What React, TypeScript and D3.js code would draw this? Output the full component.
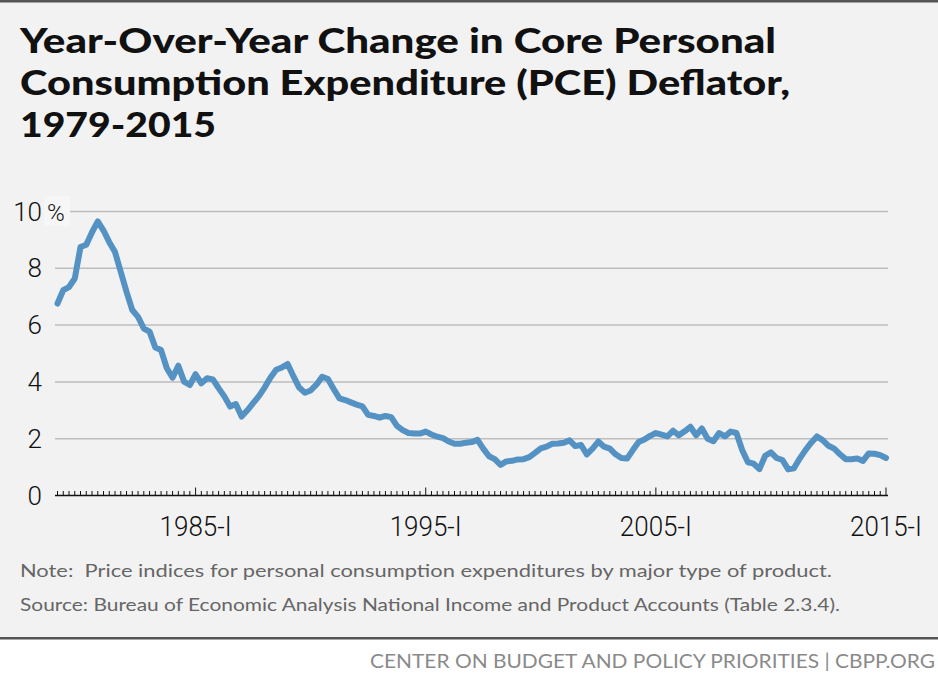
import React from "react";
import * as d3 from "d3";

const titleLines = [
  "Year-Over-Year Change in Core Personal",
  "Consumption Expenditure (PCE) Deflator,",
  "1979-2015",
];
const startYear = 1979;
const pceValues = [
  6.76, 7.23, 7.34, 7.64, 8.75, 8.83, 9.27, 9.65, 9.33, 8.92,
  8.57, 7.87, 7.17, 6.53, 6.29, 5.88, 5.77, 5.21, 5.12, 4.48,
  4.15, 4.57, 4.01, 3.89, 4.27, 3.95, 4.13, 4.09, 3.78, 3.49,
  3.13, 3.22, 2.78, 3.0, 3.25, 3.5, 3.8, 4.15, 4.43, 4.51,
  4.63, 4.2, 3.8, 3.62, 3.7, 3.9, 4.18, 4.1, 3.75, 3.42,
  3.36, 3.28, 3.2, 3.14, 2.84, 2.8, 2.74, 2.8, 2.76, 2.45,
  2.3, 2.2, 2.18, 2.18, 2.25, 2.15, 2.07, 2.02, 1.9, 1.82,
  1.82, 1.86, 1.88, 1.96, 1.65, 1.38, 1.28, 1.08, 1.2, 1.22,
  1.27, 1.28, 1.35, 1.5, 1.66, 1.72, 1.82, 1.83, 1.86, 1.94,
  1.74, 1.78, 1.45, 1.65, 1.9, 1.72, 1.65, 1.45, 1.32, 1.3,
  1.6, 1.88, 1.97, 2.1, 2.2, 2.14, 2.08, 2.28, 2.12, 2.26,
  2.42, 2.12, 2.36, 2.0, 1.91, 2.2, 2.08, 2.25, 2.2, 1.6,
  1.17, 1.12, 0.93, 1.4, 1.52, 1.32, 1.25, 0.92, 0.96, 1.3,
  1.6, 1.86, 2.08, 1.95, 1.75, 1.65, 1.45, 1.28, 1.28, 1.3,
  1.22, 1.48, 1.47, 1.42, 1.32,
];
const quarterLabels = pceValues.map((_, i) => {
  const y = startYear + Math.floor(i / 4);
  const q = ["I", "II", "III", "IV"][i % 4];
  return `${y}-${q}`;
});
const labeledTicks = ["1985-I", "1995-I", "2005-I", "2015-I"];
const yTicks = [0, 2, 4, 6, 8, 10];
const noteText = "Note:  Price indices for personal consumption expenditures by major type of product.";
const sourceText = "Source: Bureau of Economic Analysis National Income and Product Accounts (Table 2.3.4).";
const footerText = "CENTER ON BUDGET AND POLICY PRIORITIES | CBPP.ORG";

export default function App() {
  const W = 938, H = 687;
  const x = d3.scaleLinear().domain([0, pceValues.length - 1]).range([57.5, 886]);
  const y = d3.scaleLinear().domain([0, 10]).range([495.5, 211.5]);
  const line = d3
    .line<number>()
    .x((_, i) => x(i))
    .y((d) => y(d))
    .curve(d3.curveLinear);
  const labelFont = "Roboto, 'Open Sans', sans-serif";
  return (
    <div style={{ position: "fixed", left: 0, top: 0 }}>
      <style>{`body{margin:0;}`}</style>
      <svg width={W} height={H} style={{ display: "block" }}>
        <rect x={0} y={0} width={W} height={H} fill="#ffffff" />
        <rect x={0} y={0} width={W} height={638} fill="#f2f2f2" />
        <rect x={0} y={0} width={W} height={2.5} fill="#555555" />
        <rect x={0} y={637} width={W} height={2.5} fill="#555555" />
        {titleLines.map((t, i) => (
          <text
            key={t}
            x={20}
            y={53 + i * 42}
            fontFamily="Lato, 'Open Sans', sans-serif"
            fontWeight={900}
            fontSize={35}
            fill="#111"
            textLength={i === 0 ? 756 : i === 1 ? 770 : 196}
            lengthAdjust="spacingAndGlyphs"
          >
            {t}
          </text>
        ))}
        {yTicks.filter((v) => v > 0).map((v) => (
          <line key={v} x1={55} x2={888} y1={y(v)} y2={y(v)} stroke="#bdbdbd" strokeWidth={1.5} />
        ))}
        <rect x={44} y={196} width={26} height={30} fill="#f6f6f6" />
        {yTicks.map((v) => (
          <text
            key={v}
            x={42}
            y={y(v) + 9}
            textAnchor="end"
            fontFamily={labelFont}
            fontWeight={300}
            fontSize={26}
            fill="#111"
          >
            {v}
          </text>
        ))}
        <text x={47} y={y(10) + 9} fontFamily={labelFont} fontWeight={300} fontSize={24} fill="#111">
          %
        </text>
        <path d={line(pceValues) || ""} fill="none" stroke="#5592c4" strokeWidth={6} strokeLinejoin="round" strokeLinecap="round" />
        <line x1={55} x2={888} y1={y(0)} y2={y(0)} stroke="#111" strokeWidth={1.5} />
        {quarterLabels.map((q, i) => {
          const major = labeledTicks.includes(q);
          return (
            <line
              key={q}
              x1={x(i)}
              x2={x(i)}
              y1={y(0)}
              y2={y(0) - (major ? 8 : 4.5)}
              stroke="#111"
              strokeWidth={1}
            />
          );
        })}
        {quarterLabels.map((q, i) =>
          labeledTicks.includes(q) ? (
            <text
              key={"l" + q}
              x={x(i)}
              y={536}
              textAnchor="middle"
              fontFamily={labelFont}
              fontWeight={300}
              fontSize={28}
              fill="#111"
              textLength={72}
              lengthAdjust="spacingAndGlyphs"
            >
              {q}
            </text>
          ) : null
        )}
        <text x={20} y={577} fontFamily="Lato, sans-serif" fontSize={18} fill="#666" textLength={812} lengthAdjust="spacingAndGlyphs" style={{ whiteSpace: "pre" }}>
          {noteText}
        </text>
        <text x={20} y={611} fontFamily="Lato, sans-serif" fontSize={18} fill="#666" textLength={820} lengthAdjust="spacingAndGlyphs">
          {sourceText}
        </text>
        <text x={935} y={668} textAnchor="end" fontFamily="Lato, sans-serif" fontSize={19} fill="#8a8a8a" textLength={565} lengthAdjust="spacingAndGlyphs">
          {footerText}
        </text>
      </svg>
    </div>
  );
}
